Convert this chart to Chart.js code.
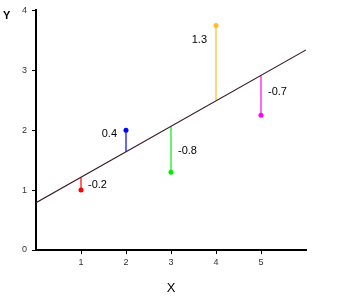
<!DOCTYPE html>
<html>
<head>
<meta charset="utf-8">
<script src="https://cdn.jsdelivr.net/npm/chart.js@4"></script>
<style>
  html, body { margin: 0; padding: 0; background: #fff; }
  canvas { display: block; }
</style>
</head>
<body>
<canvas id="chart" width="339" height="298"></canvas>
<script>
// observed points
const xValues = [1, 2, 3, 4, 5];
const yValues = [1, 2, 1.3, 3.75, 2.25];
// where the fitted line sits above each x
const fittedValues = [1.21, 1.64, 2.06, 2.49, 2.91];
const residualLabels = ['-0.2', '0.4', '-0.8', '1.3', '-0.7'];
const labelHeights = [1.08, 1.93, 1.65, 3.5, 2.63];
const labelSides = ['right', 'left', 'right', 'left', 'right'];
const pointColors = ['#ff0000', '#0000ff', '#00ee00', '#ffbb22', '#ff00ff'];

// regression line endpoints
const lineX = [0, 6];
const lineY = [0.79, 3.34];

const yTicks = [0, 1, 2, 3, 4];
const xTicks = [1, 2, 3, 4, 5];

const font = "'Liberation Sans', Arial, sans-serif";

const datasets = [];

datasets.push({
    type: 'line',
    data: lineX.map((x, i) => ({ x, y: lineY[i] })),
    borderColor: '#3a1c22',
    borderWidth: 1.2,
    pointRadius: 0,
    fill: false
});

xValues.forEach((x, i) => {
    datasets.push({
        type: 'line',
        data: [{ x, y: fittedValues[i] }, { x, y: yValues[i] }],
        borderColor: pointColors[i],
        borderWidth: 1.2,
        pointRadius: [0, 2.5],
        pointBackgroundColor: pointColors[i],
        pointBorderWidth: 0,
        fill: false
    });
});

const annotate = {
    id: 'annotate',
    afterDatasetsDraw(chart) {
        const { ctx, scales: { x, y } } = chart;
        ctx.save();
        ctx.fillStyle = '#000';
        ctx.textBaseline = 'middle';
        ctx.font = '11px ' + font;
        residualLabels.forEach((txt, i) => {
            const px = x.getPixelForValue(xValues[i]);
            const py = y.getPixelForValue(labelHeights[i]);
            if (labelSides[i] === 'right') {
                ctx.textAlign = 'left';
                ctx.fillText(txt, px + 7, py);
            } else {
                ctx.textAlign = 'right';
                ctx.fillText(txt, px - 9, py);
            }
        });
        // axis titles
        ctx.font = 'bold 11px ' + font;
        ctx.textAlign = 'left';
        ctx.fillText('Y', 3, 16);
        ctx.font = '13px ' + font;
        ctx.textAlign = 'center';
        ctx.fillText('X', (x.left + x.right) / 2, 288);
        ctx.restore();
    }
};

new Chart(document.getElementById('chart'), {
    type: 'scatter',
    data: { datasets },
    options: {
        responsive: false,
        animation: false,
        layout: { padding: { top: 10, right: 33, left: 0, bottom: 0 } },
        plugins: { legend: { display: false }, tooltip: { enabled: false } },
        scales: {
            x: {
                type: 'linear',
                min: 0,
                max: 6,
                afterBuildTicks: s => { s.ticks = xTicks.map(v => ({ value: v })); },
                afterFit: s => { s.height = 48; },
                grid: { drawOnChartArea: false, drawTicks: true, tickLength: 4, color: '#000' },
                border: { color: '#000', width: 2 },
                ticks: { color: '#333', padding: 3, font: { family: font, size: 9 } }
            },
            y: {
                type: 'linear',
                min: 0,
                max: 4,
                afterBuildTicks: s => { s.ticks = yTicks.map(v => ({ value: v })); },
                afterFit: s => { s.width = 36; },
                grid: { drawOnChartArea: false, drawTicks: true, tickLength: 4, color: '#000' },
                border: { color: '#000', width: 2 },
                ticks: { color: '#333', padding: 5, font: { family: font, size: 9 } }
            }
        }
    },
    plugins: [annotate]
});
</script>
</body>
</html>
